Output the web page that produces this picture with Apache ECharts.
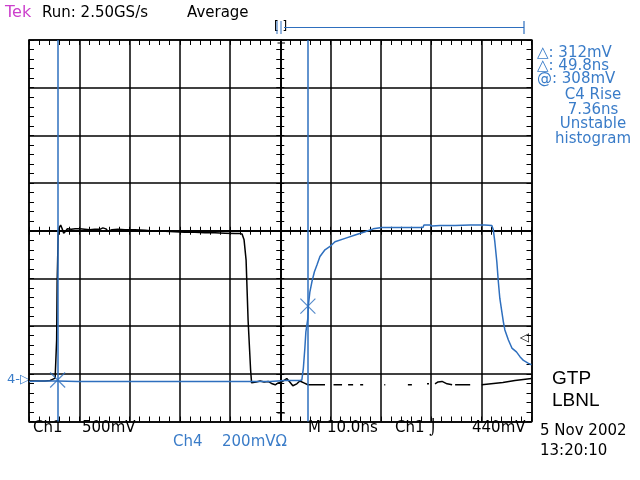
<!DOCTYPE html>
<html><head><meta charset="utf-8">
<script src="https://cdn.jsdelivr.net/npm/echarts/dist/echarts.min.js"></script>
<style>html,body{margin:0;padding:0;background:#fff}#c{width:640px;height:480px}</style>
</head><body><div id="c"></div>
<script>
// time in ns relative to trigger (10 ns/div), amplitude in screen divisions
const ch1Time = [
 -50.0,-46.8,-45.8,-45.2,-44.8,-44.6,-44.5,-44.4,-44.3,-44.2,
 -44.0,-43.7,-43.4,-43.1,-42.7,-42.4,-41.6,-40.8,-39.9,-38.9,
 -37.9,-36.9,-35.9,-35.3,-35.0,-34.7,-34.3,-33.5,-32.3,-30.9,
 -28.9,-26.9,-24.9,-22.9,-21.0,-19.0,-17.0,-15.0,-13.0,-11.0,
 -9.0,-8.0,-7.6,-7.2,-6.8,-6.6,-6.4,-6.1,-5.9,-5.7,
 -5.4,-4.8,-4.0,-3.2,-2.4,-1.6,-1.0,-0.4,0.3,1.3,
 1.9,2.5,3.3,3.9,4.7,5.5,6.5,8.9,9.5,10.6,
 12.3,12.9,13.5,14.5,15.2,15.9,16.5,18.0,20.7,20.9,
 23.0,25.4,26.2,27.7,29.2,29.6,30.2,30.8,31.4,32.2,
 33.2,34.2,34.5,34.8,37.8,39.0,40.1,44.3,46.7,50.0];
const ch1Div = [
 -3.15,-3.15,-3.14,-3.11,-3.09,-3.13,-2.29,-1.10,-0.61,-0.09,
 0.06,0.12,0.04,-0.05,-0.01,0.04,0.03,0.04,0.04,0.03,
 0.02,0.03,0.03,0.06,0.10,0.04,-0.01,0.02,0.03,0.02,
 0.02,0.01,-0.01,-0.01,-0.02,-0.03,-0.03,-0.04,-0.04,-0.05,
 -0.06,-0.06,-0.07,-0.19,-0.61,-1.24,-1.87,-2.50,-2.92,-3.19,
 -3.15,-3.17,-3.15,-3.17,-3.16,-3.21,-3.23,-3.19,-3.17,-3.10,
 -3.17,-3.25,-3.21,-3.15,-3.19,-3.23,-3.23,-3.23,null,-3.23,
 -3.23,null,-3.23,-3.23,null,-3.23,-3.23,null,-3.23,-3.23,
 null,-3.23,-3.23,null,-3.21,-3.21,null,-3.21,-3.17,-3.16,
 -3.21,-3.23,null,-3.23,-3.23,null,-3.23,-3.18,-3.14,-3.10];
const ch4Time = [
 -50.0,-47.8,-44.3,-40.4,-40.2,-40.0,-35.9,-35.7,-35.4,-30.9,
 -30.7,-30.4,-26.9,-26.7,-26.4,-13.6,-13.4,-13.1,-6.8,-6.6,
 -6.3,-2.0,0.9,3.9,4.3,4.6,4.9,5.1,5.5,5.6,
 5.9,6.3,6.8,7.3,7.9,8.9,9.9,10.9,12.9,14.9,
 16.9,18.5,20.2,22.4,25.8,28.4,28.6,29.8,30.2,31.8,
 34.8,37.8,40.7,42.1,42.4,42.7,43.1,43.4,43.7,44.1,
 44.4,44.7,45.4,46.1,47.0,47.7,48.4,49.4,50.0];
const ch4Div = [
 -3.16,-3.15,-3.15,-3.16,-3.12,-3.16,-3.16,-3.13,-3.16,-3.16,
 -3.12,-3.16,-3.16,-3.13,-3.16,-3.16,-3.13,-3.16,-3.16,-3.12,
 -3.16,-3.16,-3.14,-3.14,-3.13,-2.88,-2.46,-2.12,-1.83,-1.56,
 -1.28,-1.07,-0.86,-0.72,-0.54,-0.40,-0.33,-0.23,-0.16,-0.09,
 -0.02,0.04,0.07,0.07,0.07,0.07,0.12,0.12,0.10,0.11,
 0.11,0.12,0.12,0.11,0.02,-0.23,-0.65,-1.07,-1.42,-1.70,
 -1.91,-2.08,-2.29,-2.46,-2.54,-2.64,-2.72,-2.78,-2.81];
const cursorTimes = [-44.3, 5.5];
const cursorLevels = [-3.13, -1.58];
const readoutLines = ['\u25B3: 312mV', '\u25B3: 49.8ns', '@: 308mV'];
const measureLines = ['C4 Rise', '7.36ns', 'Unstable', 'histogram'];
const headerText = ['Tek', 'Run: 2.50GS/s', 'Average'];
const ch1Scale = ['Ch1', '500mV'];
const ch4Scale = ['Ch4', '200mV\u03A9'];
const timebase = ['M', '10.0ns', 'Ch1 \u2321', '440mV'];
const dateTime = ['5 Nov 2002', '13:20:10'];
const siteText = ['GTP', 'LBNL'];

const BLUE = '#2e6fbe', TBLUE = '#3a7cc8', BLACK = '#000';
const FONT = '15px "DejaVu Sans"';

function pairs(ts, ds){ return ts.map((t,i)=>[t, ds[i]===null ? '-' : ds[i]]); }

function axis(dim, pos, opts){
  const base = {
    type:'value', position:pos,
    min: dim==='x' ? -50 : -4, max: dim==='x' ? 50 : 4, interval: dim==='x' ? 10 : 1,
    axisLabel:{show:false},
    splitLine:{show:false},
    axisLine:{show:true, onZero:false, lineStyle:{color:BLACK, width:1.5}},
    axisTick:{show:true, inside:true, length:5, lineStyle:{color:BLACK, width:1}},
    minorTick:{show:true, splitNumber:5, length:5, lineStyle:{color:BLACK, width:1}}
  };
  return Object.assign(base, opts||{});
}
function centerAxis(dim, pos, inside){
  return axis(dim, pos, {
    axisLine:{show:true, onZero:true, onZeroAxisIndex:0, lineStyle:{color:BLACK, width:1.5}},
    axisTick:{show:true, inside:inside, length:4, lineStyle:{color:BLACK, width:1}},
    minorTick:{show:true, splitNumber:5, length:4, lineStyle:{color:BLACK, width:1}}
  });
}
const gridLine = {show:true, lineStyle:{color:BLACK, width:1.5}};

const graphics = [];
function txt(x, y, s, fill, font, align){
  graphics.push({type:'text', x:x, y:y, silent:true,
    style:{text:s, fill:fill, font:font||FONT, align:align||'left', verticalAlign:'middle'}});
}
function ln(x1,y1,x2,y2,c,w){
  graphics.push({type:'line', silent:true, shape:{x1:x1,y1:y1,x2:x2,y2:y2}, style:{stroke:c, lineWidth:w||1}});
}
txt(5, 13, headerText[0], '#cc3fcc', '16px "DejaVu Sans"');
txt(42, 13, headerText[1], BLACK);
txt(187, 13, headerText[2], BLACK);
readoutLines.forEach((s,i)=>txt(537, 53 + i*13.2, s, TBLUE));
measureLines.forEach((s,i)=>txt(593, 95 + i*14.8, s, TBLUE, FONT, 'center'));
txt(33, 428, ch1Scale[0], BLACK); txt(82, 428, ch1Scale[1], BLACK);
txt(173, 442, ch4Scale[0], TBLUE); txt(222, 442, ch4Scale[1], TBLUE);
txt(308, 428, timebase[0], BLACK); txt(327, 428, timebase[1], BLACK);
txt(395, 428, timebase[2], BLACK); txt(472, 428, timebase[3], BLACK);
txt(540, 431, dateTime[0], BLACK); txt(540, 451, dateTime[1], BLACK);
txt(552, 379, siteText[0], BLACK, '19px "Liberation Sans"');
txt(552, 401, siteText[1], BLACK, '19px "Liberation Sans"');
// channel / trigger markers and record-window indicator
txt(7, 380, '4-\u25B7', TBLUE, '13px "DejaVu Sans"');
txt(520, 338, '\u25C1', BLACK, '12px "DejaVu Sans"');
txt(274, 27, '[ ]', BLACK, '12px "DejaVu Sans"');
ln(277, 21, 277, 34, BLUE, 1); ln(281, 21, 281, 34, BLUE, 1);
ln(284, 27.5, 524, 27.5, BLUE, 1.2); ln(524, 21, 524, 34, BLUE, 1.2);
ln(281, 40, 281, 47, BLACK, 1); ln(277.5, 43, 285, 43, BLACK, 1);
ln(281, 414, 281, 421.5, BLACK, 1); ln(277.5, 413, 285, 413, BLACK, 1);

const option = {
  animation:false,
  backgroundColor:'#fff',
  grid:{left:29, top:40, right:108.5, bottom:58.5, containLabel:false},
  xAxis:[
    axis('x','bottom',{splitLine:gridLine}),
    axis('x','top',{}),
    centerAxis('x','bottom',true),
    centerAxis('x','bottom',false)
  ],
  yAxis:[
    axis('y','left',{splitLine:gridLine}),
    axis('y','right',{}),
    centerAxis('y','left',true),
    centerAxis('y','left',false)
  ],
  graphic: graphics,
  series:[
    {name:'Ch1', type:'line', xAxisIndex:0, yAxisIndex:0, data:pairs(ch1Time, ch1Div),
     showSymbol:false, connectNulls:false, lineStyle:{color:BLACK, width:1.5}, z:3, silent:true},
    {name:'Ch4', type:'line', xAxisIndex:0, yAxisIndex:0, data:pairs(ch4Time, ch4Div),
     showSymbol:false, lineStyle:{color:BLUE, width:1.5}, z:4, silent:true,
     markLine:{silent:true, symbol:'none', label:{show:false},
       lineStyle:{color:BLUE, width:1.5, type:'solid'},
       data: cursorTimes.map(t=>({xAxis:t}))}},
    {name:'cursors', type:'scatter', xAxisIndex:0, yAxisIndex:0,
     data: cursorTimes.map((t,i)=>[t, cursorLevels[i]]),
     symbol:'path://M0,0L10,10M10,0L0,10', symbolSize:15, z:5, silent:true,
     itemStyle:{color:'none', borderColor:BLUE, borderWidth:1.2}}
  ]
};
echarts.init(document.getElementById('c'), null, {renderer:'canvas'}).setOption(option);
</script>
</body></html>
